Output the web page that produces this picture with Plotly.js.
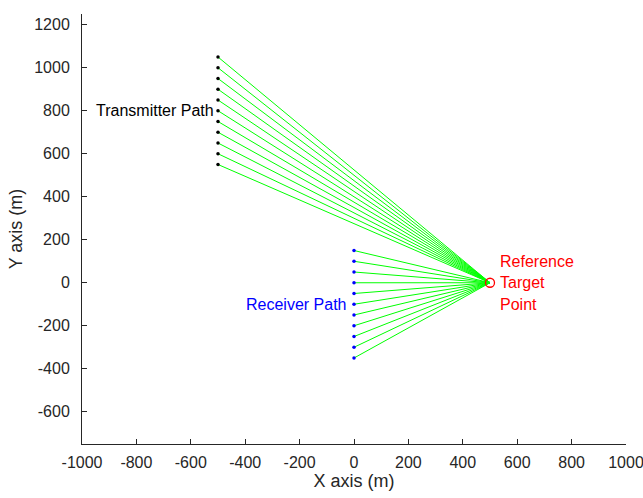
<!DOCTYPE html>
<html>
<head>
<meta charset="utf-8">
<script src="https://cdn.plot.ly/plotly-3.0.1.min.js"></script>
<style>html,body{margin:0;padding:0;background:#fff;}#chart{width:643px;height:498px;}</style>
</head>
<body>
<div id="chart"></div>
<script>
// Data
const txX = [-500,-500,-500,-500,-500,-500,-500,-500,-500,-500,-500];
const txY = [1050,1000,950,900,850,800,750,700,650,600,550];
const rxX = [0,0,0,0,0,0,0,0,0,0,0];
const rxY = [150,100,50,0,-50,-100,-150,-200,-250,-300,-350];
const targetX = [500];
const targetY = [0];
const xTicks = [-1000,-800,-600,-400,-200,0,200,400,600,800,1000];
const yTicks = [-600,-400,-200,0,200,400,600,800,1000,1200];
const targetLabel = ['Reference', 'Target', 'Point'];

function rays(xs, ys) {
  const lx = [], ly = [];
  for (let i = 0; i < xs.length; i++) {
    lx.push(xs[i], targetX[0], null);
    ly.push(ys[i], targetY[0], null);
  }
  return {lx, ly};
}
const tr = rays(txX, txY), rr = rays(rxX, rxY);

const traces = [
  {x: tr.lx, y: tr.ly, mode: 'lines', line: {color: '#00ff00', width: 1}, hoverinfo: 'skip'},
  {x: rr.lx, y: rr.ly, mode: 'lines', line: {color: '#00ff00', width: 1}, hoverinfo: 'skip'},
  {x: txX, y: txY, mode: 'markers', marker: {color: '#000000', size: 3.5}},
  {x: rxX, y: rxY, mode: 'markers', marker: {color: '#0000ff', size: 3.5}},
  {x: targetX, y: targetY, mode: 'markers', marker: {symbol: 'circle-open', color: '#ff0000', size: 9, line: {width: 1.3, color: '#ff0000'}}}
];

const FONT = 'Liberation Sans, Arial, sans-serif';
const tickFont = {family: FONT, size: 16, color: '#262626'};
const layout = {
  width: 643, height: 498,
  margin: {l: 82, r: 17, t: 14, b: 54},
  paper_bgcolor: '#fff', plot_bgcolor: '#fff',
  showlegend: false,
  font: {family: FONT},
  xaxis: {
    range: [-1000, 1000], tickvals: xTicks, ticktext: xTicks.map(String),
    ticks: 'inside', ticklen: 5, tickcolor: '#262626', tickwidth: 1,
    showline: true, linecolor: '#262626', linewidth: 1, mirror: false,
    showgrid: false, zeroline: false, tickfont: tickFont, ticklabelstandoff: 4,
    ticklabeloverflow: 'allow',
    title: {text: 'X axis (m)', font: {size: 18, color: '#262626'}, standoff: 3}
  },
  yaxis: {
    range: [-750, 1250], tickvals: yTicks, ticktext: yTicks.map(String),
    ticks: 'inside', ticklen: 5, tickcolor: '#262626', tickwidth: 1,
    showline: true, linecolor: '#262626', linewidth: 1, mirror: false,
    showgrid: false, zeroline: false, tickfont: tickFont, ticklabelstandoff: 8,
    ticklabeloverflow: 'allow',
    title: {text: 'Y axis (m)', font: {size: 18, color: '#262626'}, standoff: 6}
  },
  annotations: [
    {x: -508, y: 800, xref: 'x', yref: 'y', text: 'Transmitter Path', showarrow: false, xanchor: 'right', yanchor: 'middle', font: {size: 16, color: '#000'}},
    {x: -20, y: -100, xref: 'x', yref: 'y', text: 'Receiver Path', showarrow: false, xanchor: 'right', yanchor: 'middle', font: {size: 16, color: '#0000ff'}},
    {x: 528, y: 100, xref: 'x', yref: 'y', text: targetLabel[0], showarrow: false, xanchor: 'left', yanchor: 'middle', font: {size: 16, color: '#ff0000'}},
    {x: 528, y: 0, xref: 'x', yref: 'y', text: targetLabel[1], showarrow: false, xanchor: 'left', yanchor: 'middle', font: {size: 16, color: '#ff0000'}},
    {x: 528, y: -100, xref: 'x', yref: 'y', text: targetLabel[2], showarrow: false, xanchor: 'left', yanchor: 'middle', font: {size: 16, color: '#ff0000'}}
  ]
};
Plotly.newPlot('chart', traces, layout, {displayModeBar: false, staticPlot: true});
</script>
</body>
</html>
